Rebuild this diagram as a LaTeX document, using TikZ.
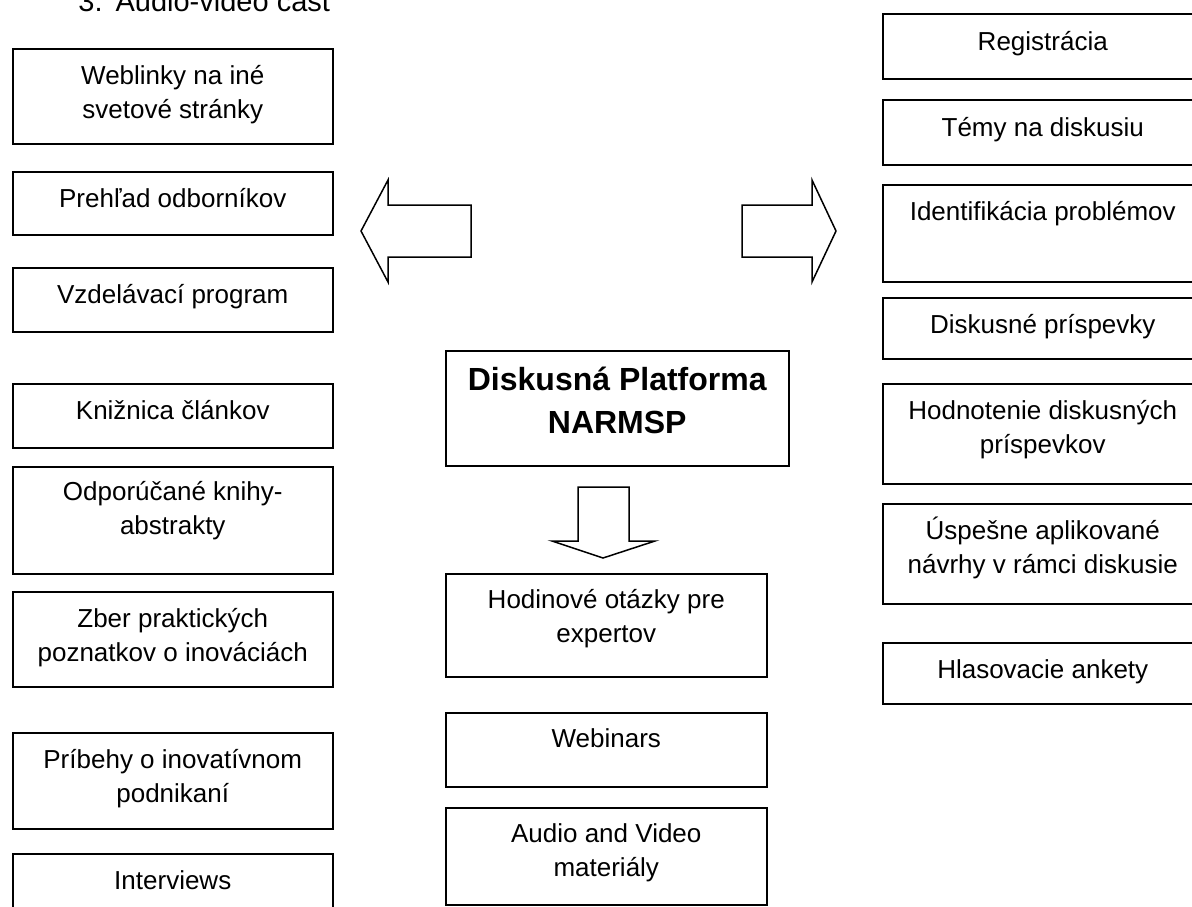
\documentclass[tikz,border=0pt]{standalone}
\usepackage{fontspec}
\setmainfont{Liberation Sans}
\newdimen\pxu \pxu=0.5pt
\newcommand{\boxtxt}[4][36]{\parbox[c][#3\pxu][t]{#2\pxu}{\centering\rule{0pt}{#1\pxu}#4}}
\tikzset{
  box/.style={draw,line width=0.75pt,inner sep=0pt,anchor=north west,font=\fontsize{13}{17}\selectfont},
  bigbox/.style={box,font=\fontsize{16}{21.5}\selectfont\bfseries},
  ttl/.style={anchor=base west,inner sep=0pt,font=\fontsize{14.5}{17}\selectfont},
  blk/.style={draw,line width=0.75pt,line join=miter},
}

\begin{document}
\begin{tikzpicture}[x=0.5pt,y=-0.5pt]
  \useasboundingbox (0,0) rectangle (1192,906);
  \clip (0,0) rectangle (1192,906);
  \node[ttl] (title) at (78,11) {3.\hspace{6.5pt}Audio-video časť};
  % left column
  \node[box] (weblinky) at (12,48) {\boxtxt{320}{95}{Weblinky na iné\\svetové stránky}};
  \node[box] (prehlad) at (12,171) {\boxtxt{320}{63}{Prehľad odborníkov}};
  \node[box] (vzdel) at (12,267) {\boxtxt{320}{64}{Vzdelávací program}};
  \node[box] (kniznica) at (12,383) {\boxtxt{320}{64}{Knižnica článkov}};
  \node[box] (knihy) at (12,466) {\boxtxt[34]{320}{107}{Odporúčané knihy-\\abstrakty}};
  \node[box] (zber) at (12,591) {\boxtxt{320}{95}{Zber praktických\\poznatkov o inováciách}};
  \node[box] (pribehy) at (12,732) {\boxtxt{320}{96}{Príbehy o inovatívnom\\podnikaní}};
  \node[box] (interviews) at (12,853) {\boxtxt{320}{100}{Interviews}};
  % middle column
  \node[bigbox] (platforma) at (445,350) {\boxtxt[40]{343}{115}{Diskusná Platforma\\NARMSP}};
  \node[box] (hodinove) at (445,573) {\boxtxt[35]{321}{103}{Hodinové otázky pre\\expertov}};
  \node[box] (webinars) at (445,712) {\boxtxt[35]{321}{74}{Webinars}};
  \node[box] (audio) at (445,807) {\boxtxt[35]{321}{97}{Audio and Video\\materiály}};
  % right column
  \node[box] (registracia) at (882,13) {\boxtxt[37]{320}{65}{Registrácia}};
  \node[box] (temy) at (882,99) {\boxtxt[37]{320}{65}{Témy na diskusiu}};
  \node[box] (identif) at (882,184) {\boxtxt{320}{97}{Identifikácia problémov}};
  \node[box] (prispevky) at (882,297) {\boxtxt{320}{61}{Diskusné príspevky}};
  \node[box] (hodnotenie) at (882,383) {\boxtxt{320}{100}{Hodnotenie diskusných\\príspevkov}};
  \node[box] (uspesne) at (882,503) {\boxtxt{320}{100}{Úspešne aplikované\\návrhy v rámci diskusie}};
  \node[box] (ankety) at (882,642) {\boxtxt{320}{61}{Hlasovacie ankety}};
  % block arrows
  \draw[blk] (361,231) -- (388,180) -- (388,205) -- (471,205) -- (471,257) -- (388,257) -- (388,282) -- cycle;
  \draw[blk] (836,231) -- (812,180) -- (812,205) -- (742,205) -- (742,257) -- (812,257) -- (812,282) -- cycle;
  \draw[blk] (603,558) -- (552,541) -- (578,541) -- (578,487) -- (629,487) -- (629,541) -- (655,541) -- cycle;
\end{tikzpicture}
\end{document}
